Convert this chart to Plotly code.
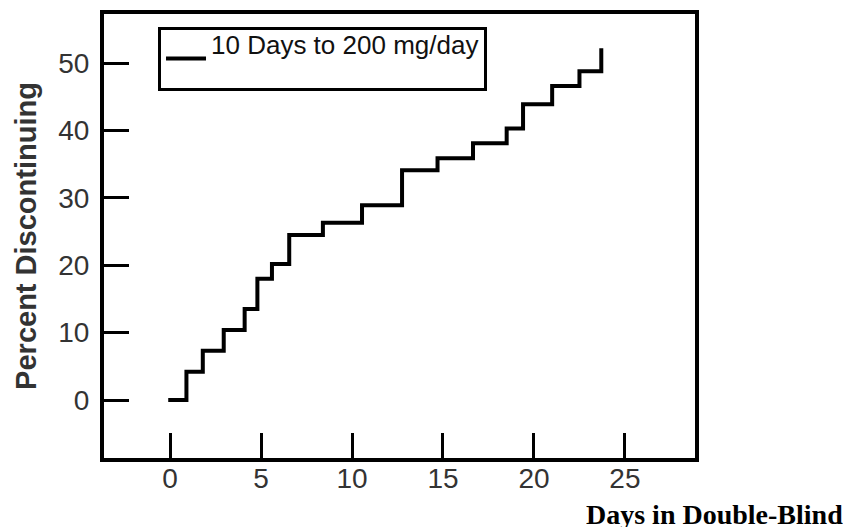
import plotly.graph_objects as go

# Step points (day, cumulative percent discontinuing), drawn with hv steps
days = [-0.1, 0.9, 1.8, 2.95, 4.1, 4.8, 5.6, 6.55, 8.4, 10.55, 12.75,
        14.7, 16.65, 18.5, 19.4, 21.0, 22.5, 23.7]
percent = [0.0, 4.2, 7.3, 10.4, 13.5, 18.0, 20.2, 24.5, 26.3, 28.9, 34.1,
           35.9, 38.1, 40.3, 43.9, 46.6, 48.8, 52.2]
series_name = "10 Days to 200 mg/day"
x_ticks = [0, 5, 10, 15, 20, 25]
y_ticks = [0, 10, 20, 30, 40, 50]
x_title = "Days in Double-Blind"
y_title = "Percent Discontinuing"

SANS = "Liberation Sans, Arial, sans-serif"

fig = go.Figure()
fig.add_trace(go.Scatter(
    x=days, y=percent, mode="lines",
    name="<span style='font-size:26px'>" + series_name + "</span><br> ",
    line=dict(shape="hv", color="black", width=4),
))

fig.update_layout(
    width=845, height=531,
    margin=dict(l=104, r=150, t=14, b=73, autoexpand=False),
    paper_bgcolor="white", plot_bgcolor="white",
    showlegend=True,
    legend=dict(
        x=0.0914, y=0.9707, xanchor="left", yanchor="top",
        bordercolor="black", borderwidth=3, bgcolor="white",
        font=dict(family=SANS, size=17, color="#111"),
        itemwidth=40, valign="middle",
    ),
    xaxis=dict(
        range=[-3.63, 28.85], tickmode="array", tickvals=x_ticks,
        ticks="inside", ticklen=25, tickwidth=3, tickcolor="black",
        showline=True, linecolor="black", linewidth=4, mirror=True,
        showgrid=False, zeroline=False, ticklabelstandoff=-8,
        tickfont=dict(family=SANS, size=28, color="#333"),
    ),
    yaxis=dict(
        range=[-8.6, 57.3], tickmode="array", tickvals=y_ticks,
        ticks="inside", ticklen=25, tickwidth=3, tickcolor="black",
        showline=True, linecolor="black", linewidth=4, mirror=True,
        showgrid=False, zeroline=False, ticklabelstandoff=5,
        tickfont=dict(family=SANS, size=28, color="#333"),
        title=dict(text="<b>" + y_title + "</b>", standoff=14,
                   font=dict(family=SANS, size=29, color="#333")),
    ),
    annotations=[dict(
        text="<b>" + x_title + "</b>", xref="paper", yref="paper",
        x=(845 - 104) / 591, y=-(529 - 458) / 444,
        xanchor="right", yanchor="bottom", showarrow=False,
        height=26, valign="middle",
        font=dict(family="Liberation Serif, Times New Roman, serif", size=28, color="black"),
    )],
)

fig.write_html("out.html", config={"displayModeBar": False},
               post_script="document.body.style.margin='0';")
